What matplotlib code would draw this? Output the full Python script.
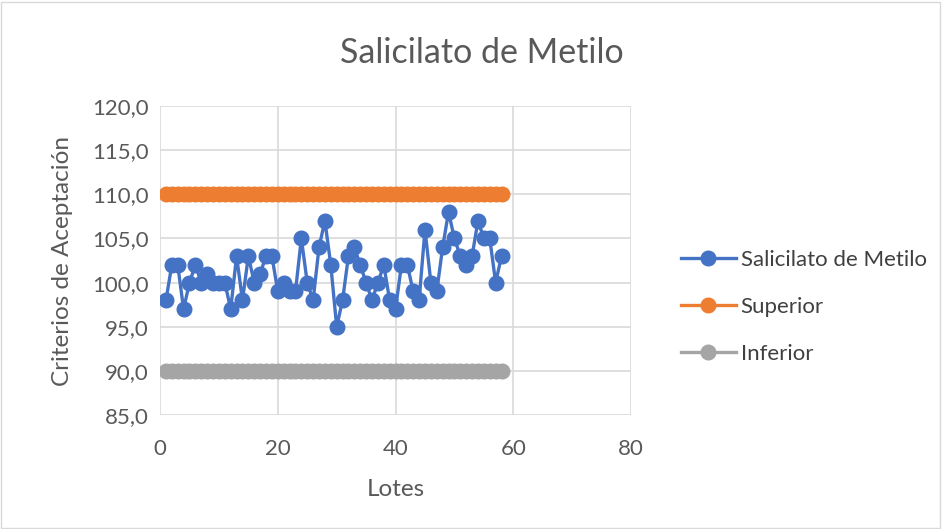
import matplotlib.pyplot as plt
from matplotlib.ticker import FuncFormatter
from matplotlib.patches import Rectangle

plt.rcParams['font.family'] = ['Lato', 'DejaVu Sans']

# Lot results and acceptance limits
lotes = list(range(1, 59))
salicilato = [98, 102, 102, 97, 100, 102, 100, 101, 100, 100,
              100, 97, 103, 98, 103, 100, 101, 103, 103, 99,
              100, 99, 99, 105, 100, 98, 104, 107, 102, 95,
              98, 103, 104, 102, 100, 98, 100, 102, 98, 97,
              102, 102, 99, 98, 106, 100, 99, 104, 108, 105,
              103, 102, 103, 107, 105, 105, 100, 103]
superior = [110.0] * len(lotes)
inferior = [90.0] * len(lotes)

fig = plt.figure(figsize=(9.42, 5.29), dpi=100)
ax = fig.add_axes([0.1699, 0.2155, 0.5, 0.584])

ax.plot(lotes, salicilato, color='#4472C4', lw=2.4, marker='o', ms=10.5,
        label='Salicilato de Metilo', zorder=3)
ax.plot(lotes, superior, color='#ED7D31', lw=2.4, marker='o', ms=10.5,
        label='Superior', zorder=3)
ax.plot(lotes, inferior, color='#A5A5A5', lw=2.4, marker='o', ms=10.5,
        label='Inferior', zorder=3)

ax.set_xlim(0, 80)
ax.set_ylim(85, 120)
ax.set_xticks(range(0, 81, 20))
ax.set_yticks(range(85, 121, 5))
ax.yaxis.set_major_formatter(FuncFormatter(lambda v, p: f'{v:.1f}'.replace('.', ',')))
ax.grid(True, color='#D9D9D9', lw=1.2)
ax.set_axisbelow(True)
for s in ax.spines.values():
    s.set_visible(False)
ax.tick_params(length=0, labelsize=16, colors='#595959')
ax.tick_params(axis='x', pad=17)
ax.tick_params(axis='y', pad=8)

fig.text(0.511, 0.9, 'Salicilato de Metilo', fontsize=24.5, color='#595959',
         ha='center', va='center')
ax.set_xlabel('Lotes', fontsize=17.5, color='#595959', labelpad=15)
ax.set_ylabel('Criterios de Aceptación', fontsize=17.5, color='#595959', labelpad=14)

leg = ax.legend(loc='center left', bbox_to_anchor=(1.063, 0.35), frameon=False,
                fontsize=16, labelcolor='#404040', handlelength=2.5,
                handletextpad=0.2, labelspacing=1.2)

fig.patches.append(Rectangle((0.001, 0.002), 0.997, 0.995, transform=fig.transFigure,
                             fill=False, edgecolor='#D9D9D9', lw=1))

fig.savefig('out.png', dpi=100)
